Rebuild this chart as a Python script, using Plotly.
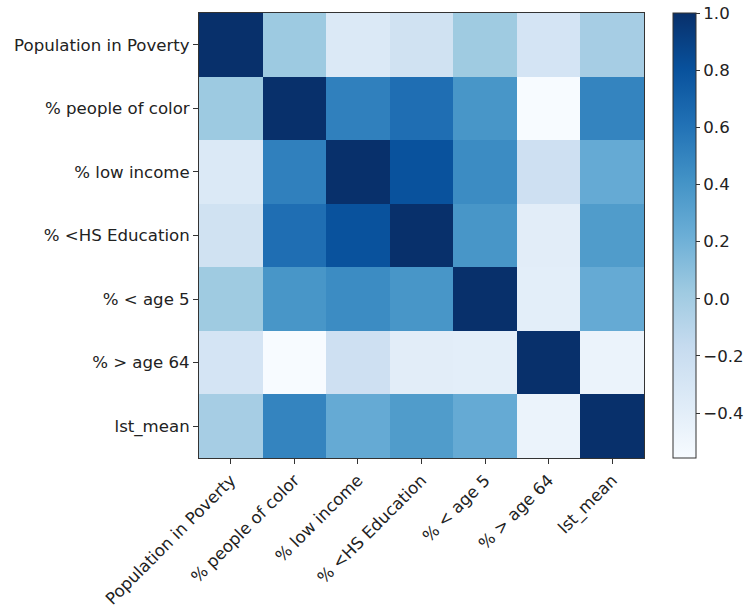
import plotly.graph_objects as go

labels = ["Population in Poverty", "% people of color", "% low income",
          "% <HS Education", "% < age 5", "% > age 64", "lst_mean"]

row_poverty = [1.00, 0.03, -0.34, -0.25, 0.02, -0.28, -0.01]
row_color   = [0.03, 1.00, 0.52, 0.63, 0.39, -0.557, 0.50]
row_lowinc  = [-0.34, 0.52, 1.00, 0.80, 0.45, -0.23, 0.25]
row_hsedu   = [-0.25, 0.63, 0.80, 1.00, 0.39, -0.39, 0.35]
row_age5    = [0.02, 0.39, 0.45, 0.39, 1.00, -0.40, 0.25]
row_age64   = [-0.28, -0.557, -0.23, -0.39, -0.40, 1.00, -0.46]
row_lst     = [-0.01, 0.50, 0.25, 0.35, 0.25, -0.46, 1.00]

z = [row_poverty, row_color, row_lowinc, row_hsedu, row_age5, row_age64, row_lst]

cbar_ticks = [-0.4, -0.2, 0.0, 0.2, 0.4, 0.6, 0.8, 1.0]

blues = ['#f7fbff', '#deebf7', '#c6dbef', '#9ecae1', '#6baed6',
         '#4292c6', '#2171b5', '#08519c', '#08306b']
colorscale = [[i / (len(blues) - 1), c] for i, c in enumerate(blues)]

FONT = "DejaVu Sans"
FS = 16.6
TXT = "#222222"

W, H = 751, 614
L, R, T, B = 199, 644, 13, 458

fig = go.Figure(go.Heatmap(
    z=z, x=labels, y=labels,
    colorscale=colorscale, zmin=-0.557, zmax=1.0,
    hoverinfo="skip",
    colorbar=dict(
        x=(673 - L) / (R - L), xanchor="left", xpad=0,
        y=0.5, yanchor="middle", ypad=0, len=1, lenmode="fraction",
        thickness=23, thicknessmode="pixels",
        outlinewidth=1, outlinecolor="#333333",
        tickvals=cbar_ticks, ticktext=[f"{v:.1f}".replace("-", "\u2212") for v in cbar_ticks],
        ticks="outside", ticklen=4, tickwidth=1, tickcolor="#333333",
        tickfont=dict(family=FONT, size=FS, color=TXT),
    ),
))

fig.update_layout(
    width=W, height=H,
    margin=dict(l=L, r=W - R, t=T, b=H - B, autoexpand=False),
    paper_bgcolor="white", plot_bgcolor="white",
    font=dict(family=FONT, size=FS, color=TXT),
    xaxis=dict(
        tickangle=-45, ticks="outside", ticklen=5, tickwidth=1, tickcolor="#333333",
        showline=True, linecolor="#333333", linewidth=1, mirror=True,
        showgrid=False, zeroline=False, automargin=False,
        tickfont=dict(family=FONT, size=FS, color=TXT),
    ),
    yaxis=dict(
        autorange="reversed", ticks="outside", ticklen=5, tickwidth=1, tickcolor="#333333",
        showline=True, linecolor="#333333", linewidth=1, mirror=True,
        showgrid=False, zeroline=False, automargin=False,
        tickfont=dict(family=FONT, size=FS, color=TXT),
    ),
)

fig.write_html("out.html")
